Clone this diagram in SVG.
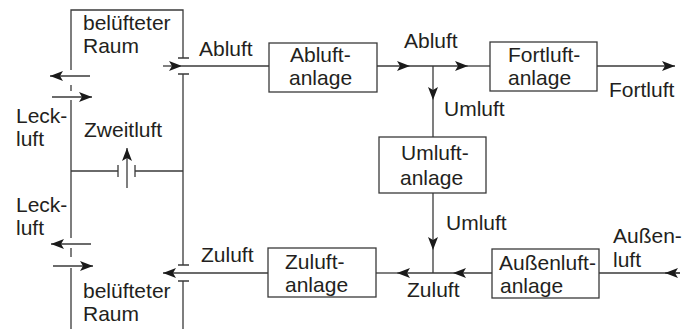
<svg xmlns="http://www.w3.org/2000/svg" width="692" height="329" viewBox="0 0 692 329">
<style>
.ln{stroke:#3a3a3a;stroke-width:1.3;fill:none}
.bx{stroke:#3a3a3a;stroke-width:1.3;fill:#fff}
text{font-family:"Liberation Sans",Arial,sans-serif;font-size:21px;fill:#231f20}
.ar{marker-end:url(#ah)}
</style>
<defs>
<marker id="ah" viewBox="-14 -6 15 12" markerWidth="15" markerHeight="12" refX="0" refY="0" orient="auto" markerUnits="userSpaceOnUse">
<path d="M0,0 L-13,-5 L-10,0 L-13,5 Z" fill="#1a1a1a"/>
</marker>
</defs>
<rect width="692" height="329" fill="#fff"/>
<g id="room">
<path class="ln" d="M71,70 V10 H183 V58 M178,58 H189 M178,74 H189 M183,74 V265 M178,265 H189 M178,281 H189 M183,281 V329"/>
<path class="ln" d="M71,85 V91 M71,100 V238 M71,248 V257 M71,268 V329"/>
<path class="ln" d="M71,171 H118 M118,165 V177 M135,165 V177 M135,171 H183"/>
<text x="83" y="30">belüfteter</text>
<text x="83" y="53">Raum</text>
<text x="83" y="298">belüfteter</text>
<text x="83" y="321">Raum</text>
<text x="16" y="123">Leck-</text>
<text x="16" y="146">luft</text>
<text x="16" y="212">Leck-</text>
<text x="16" y="235">luft</text>
<text x="84" y="137">Zweitluft</text>
</g>
<g id="abluftanlage">
<rect class="bx" x="269" y="43" width="108" height="49"/>
<text x="290" y="62">Abluft-</text>
<text x="289" y="85">anlage</text>
</g>
<g id="fortluftanlage">
<rect class="bx" x="490" y="42" width="107" height="49"/>
<text x="508" y="62">Fortluft-</text>
<text x="508" y="85">anlage</text>
</g>
<g id="umluftanlage">
<rect class="bx" x="379" y="137" width="107" height="56"/>
<text x="401" y="160">Umluft-</text>
<text x="400" y="185">anlage</text>
</g>
<g id="zuluftanlage">
<rect class="bx" x="268" y="248" width="108" height="49"/>
<text x="285" y="269">Zuluft-</text>
<text x="285" y="292">anlage</text>
</g>
<g id="aussenluftanlage">
<rect class="bx" x="492" y="249" width="107" height="49"/>
<text x="499" y="270">Außenluft-</text>
<text x="500" y="293">anlage</text>
</g>
<g id="connectors">
<path class="ln ar" d="M163,66 H182"/>
<path class="ln" d="M182,66 H269"/>
<path class="ln ar" d="M377,66 H410"/>
<path class="ln ar" d="M410,66 H468"/>
<path class="ln" d="M468,66 H490"/>
<path class="ln ar" d="M433,66 V100"/>
<path class="ln" d="M433,100 V137"/>
<path class="ln ar" d="M597,66 H675"/>
<path class="ln ar" d="M433,193 V250"/>
<path class="ln" d="M433,250 V273"/>
<path class="ln" d="M680,273 H599"/>
<path class="ln ar" d="M680,273 H665"/>
<path class="ln ar" d="M492,273 H453"/>
<path class="ln ar" d="M453,273 H397"/>
<path class="ln" d="M397,273 H376"/>
<path class="ln ar" d="M268,273 H163"/>
<path class="ln ar" d="M127,188 V148"/>
<path class="ln ar" d="M90,76 H50"/>
<path class="ln ar" d="M52,97 H92"/>
<path class="ln ar" d="M91,244 H51"/>
<path class="ln ar" d="M53,266 H93"/>
<text x="199" y="56">Abluft</text>
<text x="404" y="48">Abluft</text>
<text x="609" y="97">Fortluft</text>
<text x="444" y="116">Umluft</text>
<text x="446" y="230">Umluft</text>
<text x="201" y="262">Zuluft</text>
<text x="407" y="297">Zuluft</text>
<text x="613" y="243">Außen-</text>
<text x="613" y="267">luft</text>
</g>
</svg>
